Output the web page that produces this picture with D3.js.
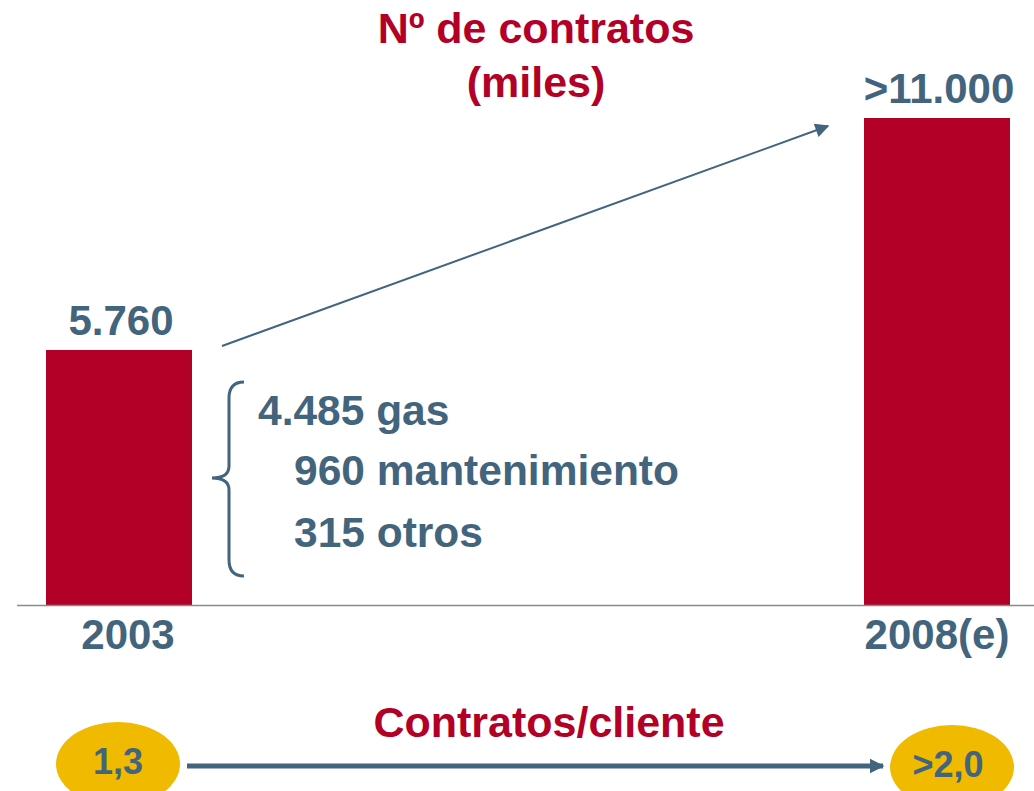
<!DOCTYPE html>
<html>
<head>
<meta charset="utf-8">
<script src="https://cdn.jsdelivr.net/npm/d3@7"></script>
<style>
	body { margin: 0; background: #fff; }
	svg { display: block; font-family: 'Liberation Sans', Arial, sans-serif; font-weight: bold; }
</style>
</head>
<body>
<svg width="1034" height="791"></svg>
<script>
'use strict';

// Chart data
const years = ['2003', '2008(e)']
const contracts = [5760, 11000]
const contractLabels = ['5.760', '>11.000']
const breakdown = ['4.485 gas', '960 mantenimiento', '315 otros']
const perClient = ['1,3', '>2,0']

const RED = '#b20026'
const SLATE = '#43647d'
const YELLOW = '#efba00'

const svg = d3.select('svg')

// Scales
const x = d3.scalePoint().domain(years).range([119, 937])
const y = d3.scaleLinear().domain([0, 11000]).range([605, 118])
const BAR_W = 146

// Title
svg.append('text')
	.attr('x', 536).attr('y', 43)
	.attr('text-anchor', 'middle').attr('font-size', 43).attr('fill', RED)
	.text('Nº de contratos')
svg.append('text')
	.attr('x', 536).attr('y', 97)
	.attr('text-anchor', 'middle').attr('font-size', 43).attr('fill', RED)
	.text('(miles)')

// Bars
const rows = years.map((yr, i) => ({ year: yr, value: contracts[i], label: contractLabels[i] }))
svg.selectAll('rect.bar').data(rows)
	.enter().append('rect')
	.classed('bar', true)
	.attr('x', (d) => x(d.year) - BAR_W / 2)
	.attr('width', BAR_W)
	.attr('y', (d) => y(d.value))
	.attr('height', (d) => y(0) - y(d.value))
	.attr('fill', RED)

// Baseline
svg.append('line')
	.attr('x1', 17).attr('x2', 1034)
	.attr('y1', y(0) + 0.5).attr('y2', y(0) + 0.5)
	.attr('stroke', '#8a8a8a').attr('stroke-width', 1.5)

// Value labels
svg.selectAll('text.val').data(rows)
	.enter().append('text')
	.classed('val', true)
	.attr('x', (d) => x(d.year) + 2)
	.attr('y', (d) => y(d.value) - 15)
	.attr('text-anchor', 'middle').attr('font-size', 42).attr('fill', SLATE)
	.text((d) => d.label)

// Year labels
svg.selectAll('text.year').data(rows)
	.enter().append('text')
	.classed('year', true)
	.attr('x', (d) => x(d.year) + 9 * (d.year === '2003' ? 1 : 0))
	.attr('y', 649)
	.attr('text-anchor', 'middle').attr('font-size', 42).attr('fill', SLATE)
	.text((d) => d.year)

// Arrow markers
const defs = svg.append('defs')
defs.append('marker')
	.attr('id', 'headThin')
	.attr('viewBox', '0 0 10 10').attr('refX', 9).attr('refY', 5)
	.attr('markerWidth', 8).attr('markerHeight', 7)
	.attr('markerUnits', 'strokeWidth').attr('orient', 'auto')
	.append('path').attr('d', 'M0,0L10,5L0,10z').attr('fill', SLATE)
defs.append('marker')
	.attr('id', 'headThick')
	.attr('viewBox', '0 0 10 10').attr('refX', 9).attr('refY', 5)
	.attr('markerWidth', 3).attr('markerHeight', 3.4)
	.attr('markerUnits', 'strokeWidth').attr('orient', 'auto')
	.append('path').attr('d', 'M0,0L10,5L0,10z').attr('fill', SLATE)

// Growth arrow
svg.append('line')
	.attr('x1', 222).attr('y1', 346)
	.attr('x2', 828).attr('y2', 126)
	.attr('stroke', SLATE).attr('stroke-width', 2)
	.attr('marker-end', 'url(#headThin)')

// Brace
const bx = 229, bTop = 382, bBot = 576, bMid = 478
svg.append('path')
	.attr('d', `M${bx + 15},${bTop} Q${bx},${bTop} ${bx},${bTop + 16} L${bx},${bMid - 12} Q${bx},${bMid} ${bx - 17},${bMid} Q${bx},${bMid} ${bx},${bMid + 12} L${bx},${bBot - 16} Q${bx},${bBot} ${bx + 15},${bBot}`)
	.attr('fill', 'none').attr('stroke', SLATE).attr('stroke-width', 3)

// Breakdown text
svg.selectAll('text.brk').data(breakdown)
	.enter().append('text')
	.classed('brk', true)
	.attr('x', (d, i) => i === 0 ? 258 : 294)
	.attr('y', (d, i) => [425, 485, 547][i])
	.attr('font-size', 42.5).attr('fill', SLATE)
	.text((d) => d)

// Contracts per client
svg.append('text')
	.attr('x', 549).attr('y', 737)
	.attr('text-anchor', 'middle').attr('font-size', 43).attr('fill', RED)
	.text('Contratos/cliente')

const circ = [{ cx: 118, cy: 764, label: perClient[0] }, { cx: 952, cy: 767, label: perClient[1] }]
svg.selectAll('ellipse').data(circ)
	.enter().append('ellipse')
	.attr('cx', (d) => d.cx).attr('cy', (d) => d.cy)
	.attr('rx', 62).attr('ry', 42)
	.attr('fill', YELLOW)
svg.selectAll('text.pc').data(circ)
	.enter().append('text')
	.classed('pc', true)
	.attr('x', (d) => d.cx - (d.cx > 500 ? 4 : 0)).attr('y', (d) => d.cy + 10)
	.attr('text-anchor', 'middle').attr('font-size', 36).attr('fill', SLATE)
	.text((d) => d.label)

svg.append('line')
	.attr('x1', 187).attr('y1', 766)
	.attr('x2', 883).attr('y2', 766)
	.attr('stroke', SLATE).attr('stroke-width', 5)
	.attr('marker-end', 'url(#headThick)')
</script>
</body>
</html>
